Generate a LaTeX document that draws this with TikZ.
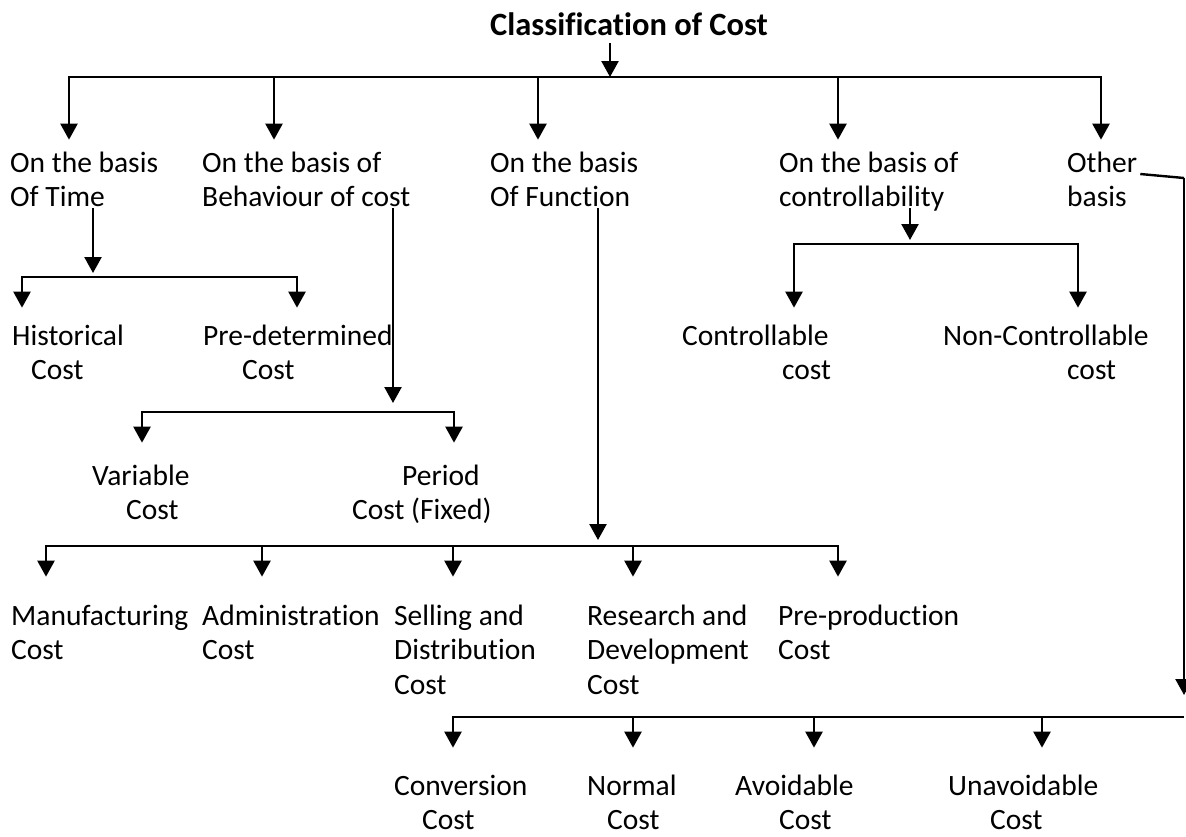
\documentclass[tikz,border=0pt]{standalone}
\usepackage{fontspec}
\setmainfont{Carlito}[Ligatures=CommonOff]
\usetikzlibrary{arrows.meta}
\newcommand{\mlines}[1]{\begin{tabular}[t]{@{}l@{}}#1\end{tabular}}
\begin{document}
\begin{tikzpicture}[x=1pt,y=-1pt,
  lbl/.style={anchor=base west,inner sep=0pt,font=\fontsize{29.5}{34.5}\selectfont},
  ttl/.style={anchor=base west,inner sep=0pt,font=\fontsize{32.5}{38}\selectfont\bfseries},
  ln/.style={line width=2.4pt},
  arr/.style={line width=2.4pt,-{Triangle[width=17pt,length=16pt]}},
]
\useasboundingbox (0,0) rectangle (1186,836);

% ---------- nodes ----------
\node[ttl] (title) at (490,35) {Classification of Cost};

\node[lbl] (time)  at (10,172)   {\mlines{On the basis\\Of Time}};
\node[lbl] (behav) at (202,172)  {\mlines{On the basis of\\Behaviour of cost}};
\node[lbl] (func)  at (490,172)  {\mlines{On the basis\\Of Function}};
\node[lbl] (ctrl)  at (779,172)  {\mlines{On the basis of\\controllability}};
\node[lbl] (other) at (1067,172) {\mlines{Other\\basis}};

\node[lbl] (hist)  at (12,345)  {\mlines{Historical\\\hspace*{19pt}Cost}};
\node[lbl] (pred)  at (203,345) {\mlines{Pre-determined\\\hspace*{39pt}Cost}};
\node[lbl] (contr) at (682,345) {\mlines{Controllable\\\hspace*{100pt}cost}};
\node[lbl] (nonc)  at (943,345) {\mlines{Non-Controllable\\\hspace*{124pt}cost}};

\node[lbl] (var)    at (92,485)  {\mlines{Variable\\\hspace*{34pt}Cost}};
\node[lbl] (period) at (352,485) {\mlines{\hspace*{50pt}Period\\Cost (Fixed)}};

\node[lbl] (manu)  at (11,625)  {\mlines{Manufacturing\\Cost}};
\node[lbl] (admin) at (202,625) {\mlines{Administration\\Cost}};
\node[lbl] (sell)  at (394,625) {\mlines{Selling and\\Distribution\\Cost}};
\node[lbl] (rd)    at (587,625) {\mlines{Research and\\Development\\Cost}};
\node[lbl] (prep)  at (778,625) {\mlines{Pre-production\\Cost}};

\node[lbl] (conv)  at (394,795) {\mlines{Conversion\\\hspace*{28pt}Cost}};
\node[lbl] (norm)  at (587,795) {\mlines{Normal\\\hspace*{20pt}Cost}};
\node[lbl] (avoid) at (735,795) {\mlines{Avoidable\\\hspace*{44pt}Cost}};
\node[lbl] (unav)  at (948,795) {\mlines{Unavoidable\\\hspace*{42pt}Cost}};

% ---------- junction coordinates ----------
\coordinate (T)  at (610,77);
\coordinate (TL) at (69,77);
\coordinate (Tb) at (274,77);
\coordinate (Tf) at (538,77);
\coordinate (Tc) at (838,77);
\coordinate (TR) at (1101,77);

\coordinate (tJ) at (93,277);  \coordinate (tL) at (22,277);  \coordinate (tR) at (297,277);
\coordinate (bJ) at (393,412); \coordinate (bL) at (142,412); \coordinate (bR) at (454,412);
\coordinate (fJ) at (598,546); \coordinate (fL) at (46,546);  \coordinate (fR) at (838,546);
\coordinate (f2) at (262,546); \coordinate (f3) at (453,546); \coordinate (f4) at (633,546);
\coordinate (cJ) at (910,244); \coordinate (cL) at (794,244); \coordinate (cR) at (1078,244);
\coordinate (oC) at (1184,178); \coordinate (oR) at (1184,717); \coordinate (oL) at (453,717);
\coordinate (o2) at (633,717); \coordinate (o3) at (814,717); \coordinate (o4) at (1042,717);

% ---------- top level ----------
\draw[arr] ([yshift=-8pt]title.south -| T) -- (T);
\draw[arr,shorten >=8pt] (T) -- (TL) -- (TL |- time.north);
\draw[arr,shorten >=8pt] (T) -- (TR) -- (TR |- other.north);
\draw[arr,shorten >=8pt] (Tb) -- (Tb |- behav.north);
\draw[arr,shorten >=8pt] (Tf) -- (Tf |- func.north);
\draw[arr,shorten >=8pt] (Tc) -- (Tc |- ctrl.north);

% ---------- time ----------
\draw[arr] ([yshift=9pt]time.south -| tJ) -- ([yshift=4pt]tJ);
\draw[arr,shorten >=13pt] (tJ) -- (tL) -- (tL |- hist.north);
\draw[arr,shorten >=13pt] (tJ) -- (tR) -- (tR |- pred.north);

% ---------- behaviour ----------
\draw[arr] ([yshift=9pt]behav.south -| bJ) -- ([yshift=9pt]bJ);
\draw[arr,shorten >=18pt] (bJ) -- (bL) -- (bL |- var.north);
\draw[arr,shorten >=18pt] (bJ) -- (bR) -- (bR |- period.north);

% ---------- function ----------
\draw[arr] ([yshift=9pt]func.south -| fJ) -- ([yshift=6pt]fJ);
\draw[arr,shorten >=24pt] (fJ) -- (fL) -- (fL |- manu.north);
\draw[arr,shorten >=24pt] (fJ) -- (fR) -- (fR |- prep.north);
\draw[arr,shorten >=24pt] (f2) -- (f2 |- admin.north);
\draw[arr,shorten >=24pt] (f3) -- (f3 |- sell.north);
\draw[arr,shorten >=24pt] (f4) -- (f4 |- rd.north);

% ---------- controllability ----------
\draw[arr] ([yshift=9pt]ctrl.south -| cJ) -- ([yshift=4pt]cJ);
\draw[arr,shorten >=13pt] (cJ) -- (cL) -- (cL |- contr.north);
\draw[arr,shorten >=13pt] (cJ) -- (cR) -- (cR |- nonc.north);

% ---------- other basis ----------
\draw[ln] ([xshift=3pt,yshift=-2pt]other.base east) -- (oC);
\draw[arr] (oC) -- ([yshift=22pt]oR);
\draw[arr,shorten >=23pt] (oR) -- (oL) -- (oL |- conv.north);
\draw[arr,shorten >=23pt] (o2) -- (o2 |- norm.north);
\draw[arr,shorten >=23pt] (o3) -- (o3 |- avoid.north);
\draw[arr,shorten >=23pt] (o4) -- (o4 |- unav.north);
\end{tikzpicture}
\end{document}
